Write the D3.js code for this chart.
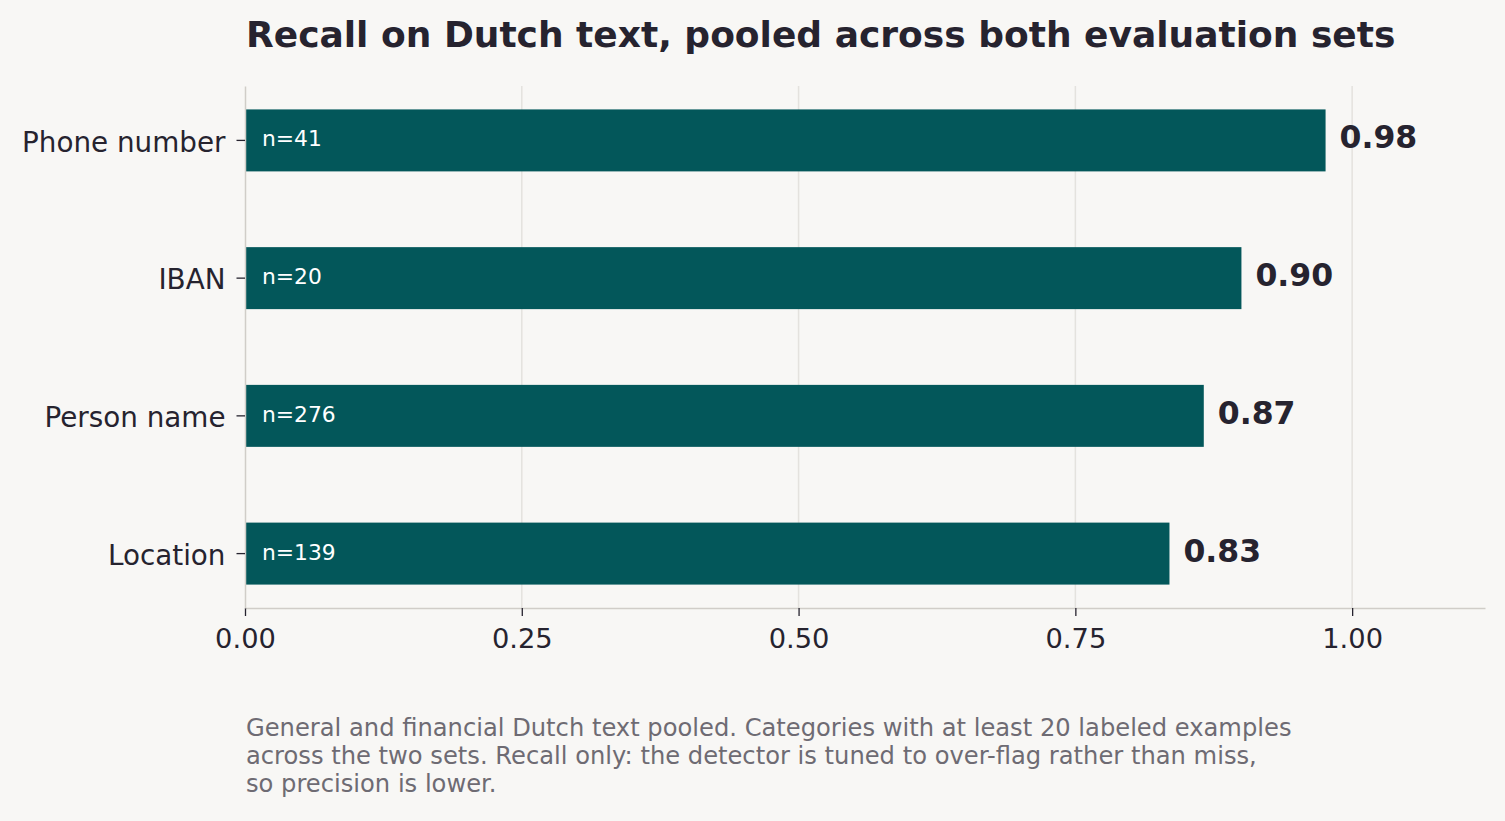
<!DOCTYPE html>
<html>
<head>
<meta charset="utf-8">
<script src="https://cdn.jsdelivr.net/npm/d3@7"></script>
<style>
  html, body { margin: 0; padding: 0; background: #f8f7f5; }
  svg { display: block; font-family: "DejaVu Sans", sans-serif; }
</style>
</head>
<body>
<svg id="chart"></svg>
<script>
// data
const categories = ['Phone number', 'IBAN', 'Person name', 'Location'];
const recall = [0.976, 0.90, 0.866, 0.835];
const counts = [41, 20, 276, 139];
const xTicks = [0, 0.25, 0.5, 0.75, 1.0];
const footnote = [
  'General and financial Dutch text pooled. Categories with at least 20 labeled examples',
  'across the two sets. Recall only: the detector is tuned to over-flag rather than miss,',
  'so precision is lower.'
];

// base setting
const width = 1505;
const height = 821;
const margin = { top: 86, right: 20, bottom: 213, left: 245 };
const barColor = '#03575a';
const textColor = '#26232f';

const svg = d3.select('#chart').attr('width', width).attr('height', height);
svg.append('rect').attr('width', width).attr('height', height).attr('fill', '#f8f7f5');

// x value scaling
const x = d3.scaleLinear()
  .domain([0, 1.12])
  .range([margin.left, width - margin.right]);

// y band scaling
const y = d3.scaleBand()
  .domain(categories)
  .range([margin.top, height - margin.bottom])
  .paddingInner(0.55)
  .paddingOuter(0.17);

// grid lines
svg.append('g')
  .selectAll('line')
  .data(xTicks.slice(1))
  .join('line')
  .attr('x1', (d) => x(d))
  .attr('x2', (d) => x(d))
  .attr('y1', margin.top)
  .attr('y2', height - margin.bottom)
  .attr('stroke', '#e4e2de')
  .attr('stroke-width', 1.5);

// bars
svg.append('g')
  .attr('fill', barColor)
  .selectAll('rect')
  .data(categories)
  .join('rect')
  .attr('x', x(0))
  .attr('y', (d) => y(d))
  .attr('width', (d, i) => x(recall[i]) - x(0))
  .attr('height', y.bandwidth());

// n labels inside bars
svg.append('g')
  .selectAll('text')
  .data(categories)
  .join('text')
  .attr('x', x(0) + 17)
  .attr('y', (d) => y(d) + y.bandwidth() / 2 + 6)
  .attr('fill', '#ffffff')
  .style('font-size', '21.8px')
  .text((d, i) => `n=${counts[i]}`);

// value labels
svg.append('g')
  .selectAll('text')
  .data(categories)
  .join('text')
  .attr('x', (d, i) => x(recall[i]) + 14)
  .attr('y', (d) => y(d) + y.bandwidth() / 2 + 8)
  .attr('fill', textColor)
  .style('font-size', '31.5px')
  .style('font-weight', 'bold')
  .text((d, i) => recall[i].toFixed(2));

// x axis
const xAxis = svg.append('g')
  .attr('transform', `translate(0,${height - margin.bottom})`)
  .call(d3.axisBottom(x).tickValues(xTicks).tickFormat(d3.format('.2f')).tickSize(8).tickPadding(13).tickSizeOuter(0));
xAxis.attr('font-family', null).attr('font-size', null);
xAxis.select('.domain').attr('stroke', '#d0cdc8').attr('stroke-width', 1.5);
xAxis.selectAll('.tick line').attr('stroke', textColor).attr('stroke-width', 1.3);
xAxis.selectAll('.tick text').attr('fill', textColor).style('font-size', '27.3px');

// y axis
const yAxis = svg.append('g')
  .attr('transform', `translate(${margin.left},0)`)
  .call(d3.axisLeft(y).tickSize(8.5).tickPadding(11).tickSizeOuter(0));
yAxis.attr('font-family', null).attr('font-size', null);
yAxis.select('.domain').attr('stroke', '#d0cdc8').attr('stroke-width', 1.5);
yAxis.selectAll('.tick line').attr('stroke', textColor).attr('stroke-width', 1.3);
yAxis.selectAll('.tick text').attr('fill', textColor).attr('dy', '0.4em').style('font-size', '27.8px');

// title
svg.append('text')
  .attr('x', 246)
  .attr('y', 47)
  .attr('fill', textColor)
  .style('font-size', '36px')
  .style('font-weight', 'bold')
  .text('Recall on Dutch text, pooled across both evaluation sets');

// footnote
svg.append('g')
  .selectAll('text')
  .data(footnote)
  .join('text')
  .attr('x', 246)
  .attr('y', (d, i) => 736 + i * 28)
  .attr('fill', '#6e6b73')
  .style('font-size', '24.2px')
  .text((d) => d);
</script>
</body>
</html>
